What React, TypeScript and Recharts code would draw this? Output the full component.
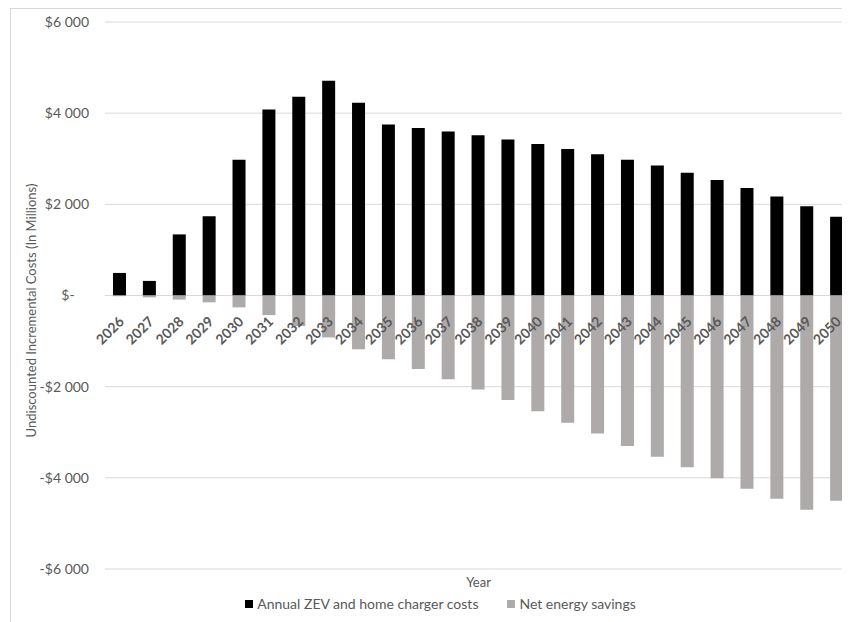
import { BarChart, Bar, XAxis, YAxis, CartesianGrid, Legend } from "recharts";

const YEARS = [
    "2026", "2027", "2028", "2029", "2030", "2031", "2032", "2033", "2034", "2035", "2036", "2037", "2038",
    "2039", "2040", "2041", "2042", "2043", "2044", "2045", "2046", "2047", "2048", "2049", "2050",
];
const ZEV_COSTS = [
    495, 320, 1340, 1740, 2980, 4080, 4360, 4710, 4230, 3750, 3675, 3600, 3515, 3420, 3325, 3215, 3100, 2980,
    2850, 2695, 2535, 2360, 2170, 1960, 1730,
];
const ENERGY_SAVINGS = [
    -15, -40, -90, -150, -260, -430, -670, -920, -1180, -1400, -1615, -1835, -2060, -2290, -2540, -2790, -3030,
    -3300, -3540, -3770, -4010, -4240, -4460, -4700, -4500,
];
const Y_TICKS = [-6000, -4000, -2000, 0, 2000, 4000, 6000];

const data = YEARS.map((year, i) => ({ year, zev: ZEV_COSTS[i], savings: ENERGY_SAVINGS[i] }));

const FONT = "Lato, 'Open Sans', sans-serif";
const TEXT = "#595959";
const GRID = "#d9d9d9";
const PLOT_TOP = 13;
const PLOT_H = 547;

const money = (v: number) => {
    if (v === 0) return "$-\u00a0\u00a0\u00a0\u00a0";
    const s = Math.abs(v).toLocaleString("en-US").replace(",", " ");
    return v < 0 ? `-$${s}` : `$${s}`;
};

// year labels sit on the zero line, not at the bottom of the plot
function YearTick({ x, y, payload }: any) {
    const ty = y - PLOT_H / 2 + 19;
    const tx = x + 5;
    return (
        <text
            x={tx}
            y={ty}
            transform={`rotate(-45, ${tx}, ${ty})`}
            textAnchor="end"
            fill={TEXT}
            fontSize={14}
            fontWeight={700}
            fontFamily={FONT}
        >
            {payload.value}
        </text>
    );
}

function AxisTitle() {
    const cx = 20;
    const cy = PLOT_TOP + PLOT_H / 2 + 15;
    return (
        <text
            x={cx}
            y={cy}
            transform={`rotate(-90, ${cx}, ${cy})`}
            textAnchor="middle"
            dominantBaseline="central"
            fill={TEXT}
            fontSize={13}
            fontFamily={FONT}
        >
            Undiscounted Incremental Costs (In Millions)
        </text>
    );
}

function LegendBox() {
    const item = (color: string, label: string) => (
        <span style={{ display: "inline-flex", alignItems: "center" }}>
            <span style={{ width: 8, height: 8, background: color, marginRight: 4, display: "inline-block" }} />
            {label}
        </span>
    );
    return (
        <div
            style={{
                display: "flex",
                justifyContent: "center",
                gap: 29,
                paddingLeft: 18,
                marginTop: 4,
                fontFamily: FONT,
                fontSize: 14,
                color: TEXT,
            }}
        >
            {item("#000000", "Annual ZEV and home charger costs")}
            {item("#aeaaaa", "Net energy savings")}
        </div>
    );
}

export default function App() {
    return (
        <div style={{ width: 842, height: 614, overflow: "hidden" }}>
            <div style={{ marginLeft: 2, width: 858, height: 620, border: `1px solid ${GRID}`, background: "#fff" }}>
                <BarChart
                    width={858}
                    height={610}
                    data={data}
                    stackOffset="sign"
                    margin={{ top: PLOT_TOP, right: 17, bottom: 4, left: 0 }}
                >
                    <CartesianGrid vertical={false} stroke={GRID} />
                    <XAxis
                        dataKey="year"
                        height={22}
                        axisLine={false}
                        tickLine={false}
                        interval={0}
                        tick={<YearTick />}
                        label={{
                            value: "Year",
                            position: "insideBottom",
                            offset: 4,
                            fill: TEXT,
                            fontSize: 13,
                            fontFamily: FONT,
                        }}
                    />
                    <YAxis
                        width={94}
                        domain={[-6000, 6000]}
                        ticks={Y_TICKS}
                        tickFormatter={money}
                        axisLine={false}
                        tickLine={false}
                        tickSize={0}
                        tickMargin={16}
                        tick={{ fill: TEXT, fontSize: 14, fontFamily: FONT }}
                        label={<AxisTitle />}
                    />
                    <Legend verticalAlign="bottom" height={24} content={<LegendBox />} />
                    <Bar dataKey="zev" stackId="a" fill="#000000" barSize={13} isAnimationActive={false} />
                    <Bar dataKey="savings" stackId="a" fill="#aeaaaa" barSize={13} isAnimationActive={false} />
                </BarChart>
            </div>
        </div>
    );
}
